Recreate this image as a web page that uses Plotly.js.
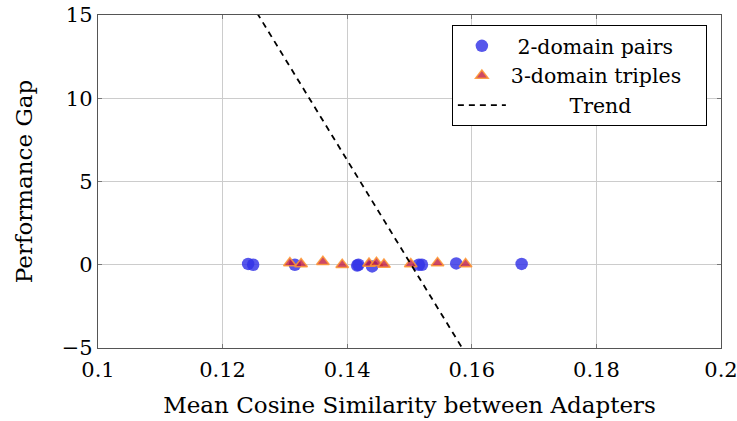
<!DOCTYPE html>
<html><head><meta charset="utf-8">
<script src="https://cdn.plot.ly/plotly-3.0.1.min.js"></script>
<style>body{margin:0;background:#fff}#c{width:737px;height:421px}</style>
</head><body><div id="c"></div>
<script>
const pairX = [0.1241, 0.1249, 0.1316, 0.1416, 0.1418, 0.1440, 0.1515, 0.1520, 0.1575, 0.1680];
const pairY = [0.05, 0.0, 0.0, -0.05, 0.0, -0.1, 0.0, 0.0, 0.08, 0.05];
const tripX = [0.1308, 0.1326, 0.1361, 0.1392, 0.1435, 0.1447, 0.1459, 0.1502, 0.1545, 0.1590];
const tripY = [0.1, 0.05, 0.18, 0.0, 0.08, 0.12, 0.02, 0.05, 0.1, 0.05];
const trendX = [0.12, 0.165];
const trendY = [18.5, -9.0];
const xTicks = [0.1, 0.12, 0.14, 0.16, 0.18, 0.2];
const xTickText = ['0.1', '0.12', '0.14', '0.16', '0.18', '0.2'];
const yTicks = [-5, 0, 5, 10, 15];
const nb = '\u00a0';
const names = [nb + '2-domain pairs', '3-domain triples' + nb + nb + nb, nb.repeat(9) + 'Trend'];

const F = 'DejaVu Serif, serif';
const data = [
  {x: pairX, y: pairY, type: 'scatter', mode: 'markers', name: names[0],
   marker: {symbol: 'circle', size: 12.5, color: 'rgba(50,50,230,0.82)', line: {width: 0}}},
  {x: tripX, y: tripY, type: 'scatter', mode: 'markers', name: names[1],
   marker: {symbol: 'triangle-up', size: 11, color: 'rgba(190,20,60,0.78)', line: {width: 1.5, color: 'rgba(255,150,50,0.85)'}}},
  {x: trendX, y: trendY, type: 'scatter', mode: 'lines', name: names[2],
   line: {color: 'black', width: 1.8, dash: '6px,5px'}}
];
const layout = {
  width: 737, height: 421,
  margin: {l: 98, r: 16, t: 15, b: 73},
  paper_bgcolor: '#fff', plot_bgcolor: '#fff',
  font: {family: F, size: 21, color: '#000'},
  showlegend: true,
  legend: {x: 0.568, y: 0.97, xanchor: 'left', yanchor: 'top', bordercolor: '#000', borderwidth: 1,
           bgcolor: '#fff', font: {family: F, size: 20.5}, tracegroupgap: 0, itemwidth: 48},
  xaxis: {range: [0.1, 0.2], tickvals: xTicks, ticktext: xTickText, showgrid: true, gridcolor: '#cccccc',
          gridwidth: 1, zeroline: false, showline: true, linecolor: '#555', linewidth: 1.2, mirror: 'ticks',
          ticks: 'inside', ticklen: 4, tickcolor: '#777', tickfont: {size: 21}, ticklabelstandoff: 3,
          ticklabeloverflow: 'allow', automargin: false,
          title: {text: 'Mean Cosine Similarity between Adapters', font: {size: 23}, standoff: 15}},
  yaxis: {range: [-5, 15], tickvals: yTicks, showgrid: true, gridcolor: '#cccccc', gridwidth: 1,
          zeroline: false, showline: true, linecolor: '#555', linewidth: 1.2, mirror: 'ticks',
          ticks: 'inside', ticklen: 4, tickcolor: '#777', tickfont: {size: 21}, automargin: false,
          title: {text: 'Performance Gap', font: {size: 23}, standoff: 22}}
};
Plotly.newPlot('c', data, layout, {displayModeBar: false, staticPlot: true});
</script></body></html>
